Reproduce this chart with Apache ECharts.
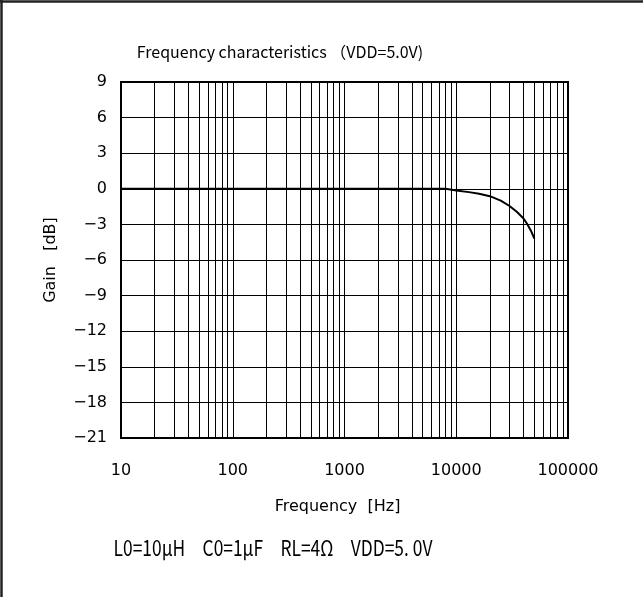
<!DOCTYPE html>
<html>
<head>
<meta charset="utf-8">
<script src="https://cdn.jsdelivr.net/npm/echarts@6/dist/echarts.min.js"></script>
<style>
html,body{margin:0;padding:0;background:#fff;}
#c{width:643px;height:597px;}
</style>
</head>
<body>
<div id="c"></div>
<script>
const titleText = 'Frequency characteristics （VDD=5.0V)';
const xName = 'Frequency  [Hz]';
const yName = 'Gain   [dB]';
const noteText = 'L0=10\u03bcH\u3000C0=1\u03bcF\u3000RL=4\u03a9\u3000VDD=5. 0V';
const freq = [10, 100, 1000, 5000, 8000, 8000, 10000, 13000, 16000, 20000, 25000, 30000, 35000, 40000, 43000, 47000, 50000];
const gain = [0, 0, 0, 0, 0, -0.12, -0.15, -0.28, -0.42, -0.62, -1.0, -1.45, -1.95, -2.5, -2.95, -3.6, -4.2];
const minorFreq = [20,30,40,50,60,70,80,90,200,300,400,500,600,700,800,900,2000,3000,4000,5000,6000,7000,8000,9000,20000,30000,40000,50000,60000,70000,80000,90000];
const yMin = -21, yMax = 9, yStep = 3;
const xMin = 10, xMax = 100000;

const fontJP = '"Noto Sans CJK JP","DejaVu Sans",sans-serif';
const fontNum = '"DejaVu Sans",sans-serif';
const chart = echarts.init(document.getElementById('c'), null, {renderer: 'canvas'});
chart.setOption({
  animation: false,
  backgroundColor: '#fff',
  grid: {left: 121, top: 82, right: 75, bottom: 159, show: true, borderColor: '#000', borderWidth: 2, backgroundColor: 'transparent'},
  xAxis: {
    type: 'log', logBase: 10, min: xMin, max: xMax,
    name: xName, nameLocation: 'middle', nameGap: 61,
    nameTextStyle: {fontFamily: fontNum, fontSize: 16, color: '#000', padding: [0, 14, 0, 0]},
    axisLine: {show: false},
    axisTick: {show: false},
    axisLabel: {margin: 25, fontFamily: fontNum, fontSize: 16, color: '#000', showMinLabel: true, showMaxLabel: true,
      formatter: v => String(Math.round(v))},
    splitLine: {show: true, lineStyle: {color: '#000', width: 1}},
    minorTick: {show: false},
    minorSplitLine: {show: false}
  },
  yAxis: {
    type: 'value', min: yMin, max: yMax, interval: yStep,
    name: yName, nameLocation: 'middle', nameGap: 62, nameRotate: 90,
    nameTextStyle: {fontFamily: fontNum, fontSize: 16, color: '#000'},
    axisLine: {show: false},
    axisTick: {show: false},
    axisLabel: {margin: 14, fontFamily: fontNum, fontSize: 16, color: '#000',
      formatter: v => String(v).replace('-', '\u2212')},
    splitLine: {show: true, lineStyle: {color: '#000', width: 1}}
  },
  series: [{
    type: 'line',
    data: freq.map((f, i) => [f, gain[i]]),
    showSymbol: false,
    lineStyle: {color: '#000', width: 2},
    z: 5,
    markLine: {
      silent: true,
      symbol: ['none', 'none'],
      label: {show: false},
      lineStyle: {color: '#000', width: 1, type: 'solid'},
      data: minorFreq.map(f => ({xAxis: f}))
    }
  }],
  graphic: [
    {type: 'line', shape: {x1: 0, y1: 1.5, x2: 643, y2: 1.5}, style: {stroke: '#222', lineWidth: 2.5}},
    {type: 'line', shape: {x1: 1.5, y1: 0, x2: 1.5, y2: 597}, style: {stroke: '#222', lineWidth: 2.5}},
    {type: 'text', x: 280, y: 52, style: {text: titleText, textAlign: 'center', textVerticalAlign: 'middle', font: '16px ' + fontJP, fill: '#000'}},
    {type: 'text', x: 273, y: 548, scaleX: 0.79, style: {text: noteText, textAlign: 'center', textVerticalAlign: 'middle', font: '22px ' + fontJP, fill: '#000'}}
  ]
});
</script>
</body>
</html>
